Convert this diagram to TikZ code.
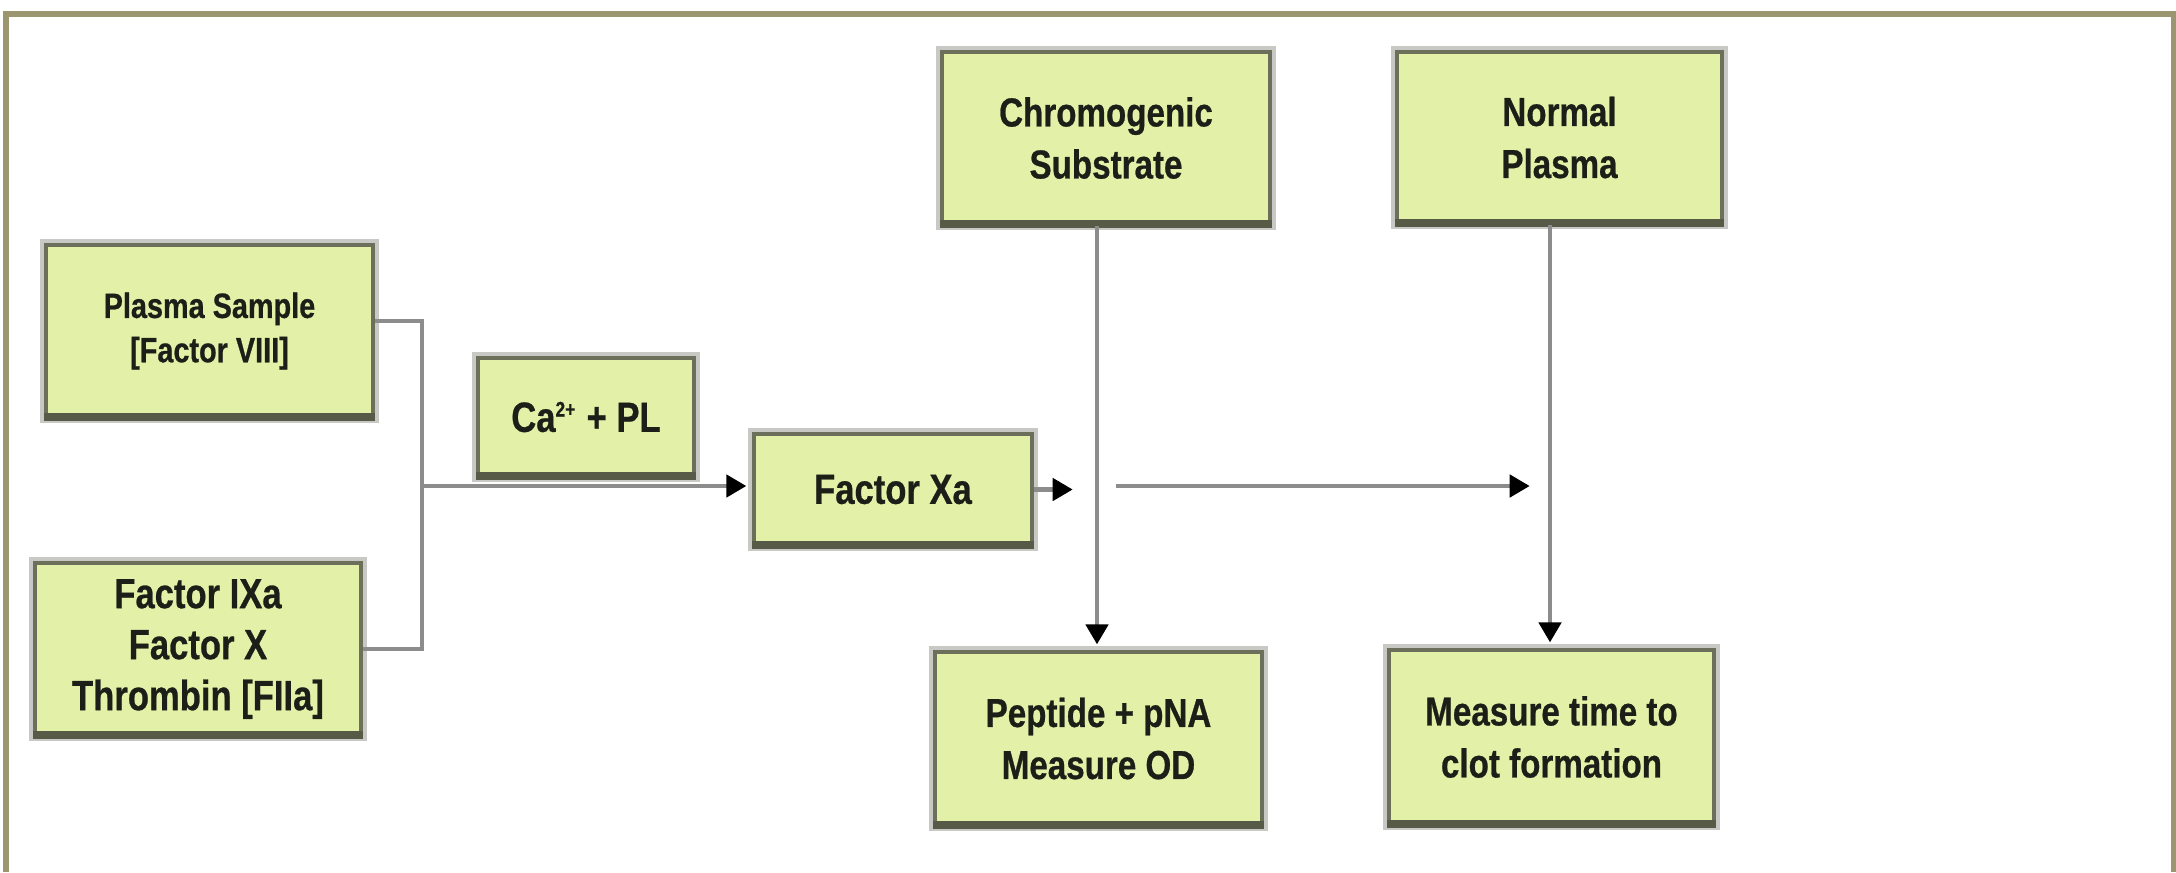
\documentclass[tikz,border=0pt]{standalone}
\usepackage{fontspec}
\setmainfont{Liberation Sans}[FakeStretch=0.82,FakeBold=0.6]
\usetikzlibrary{arrows.meta}
\definecolor{frameol}{RGB}{155,150,112}
\definecolor{boxfill}{RGB}{227,241,168}
\definecolor{boxline}{RGB}{108,111,90}
\definecolor{boxbot}{RGB}{88,90,72}
\definecolor{halo}{RGB}{200,200,196}
\definecolor{connc}{RGB}{140,140,140}
\definecolor{txt}{RGB}{28,30,24}
\tikzset{
  box/.style 2 args={draw=boxline, line width=1.3pt, fill=boxfill,
    preaction={draw=halo, line width=3.2pt},
    minimum width=#1, minimum height=#2, inner sep=0pt, align=center,
    text=txt, font=\bfseries\fontsize{11.5}{14.8}\selectfont},
  boxbottom/.style={draw=boxbot, line width=2.2pt},
  conn/.style={draw=connc, line width=1.3pt},
  arr/.style={conn, shorten >=1.5pt, -{Triangle[length=0.2cm,width=0.22cm,color=black]}}
}
\begin{document}
\begin{tikzpicture}[x=0.01cm,y=-0.01cm]
\useasboundingbox (0,0) rectangle (2176,872);
% frame
\draw[frameol, line width=0.06cm] (6,872) -- (6,14) -- (2174,14) -- (2174,872);
% nodes
\node[box={3.27cm}{1.72cm}, font=\bfseries\fontsize{10}{12.6}\selectfont] (ps) at (209.5,331) {Plasma Sample\\{[Factor VIII]}};
\node[box={3.26cm}{1.72cm}, font=\bfseries\fontsize{12}{14.5}\selectfont] (ix) at (198,649) {Factor IXa\\Factor X\\Thrombin [FIIa]};
\node[box={2.16cm}{1.18cm}, font=\bfseries\fontsize{12}{14.5}\selectfont] (ca) at (586,417) {Ca\textsuperscript{\fontsize{6}{6}\selectfont 2+} + PL};
\node[box={2.78cm}{1.11cm}, font=\bfseries\fontsize{12}{14.5}\selectfont] (xa) at (893,489.5) {Factor Xa};
\node[box={3.28cm}{1.72cm}] (cs) at (1106,138) {Chromogenic\\Substrate};
\node[box={3.25cm}{1.71cm}] (np) at (1559.5,137.5) {Normal\\Plasma};
\node[box={3.27cm}{1.73cm}] (pe) at (1098.5,738.5) {Peptide + pNA\\Measure OD};
\node[box={3.25cm}{1.74cm}] (mt) at (1551.5,737) {Measure time to\\clot formation};
\foreach \n in {ps,ix,ca,xa,cs,np,pe,mt}
  \draw[boxbottom] ([yshift=0.6pt]\n.south west) -- ([yshift=0.6pt]\n.south east);
% coordinates
\coordinate (j1) at (422,321);
\coordinate (jm) at (422,486);
\coordinate (xe) at (1078,489.5);
\coordinate (vx) at (1097,0);
\coordinate (h1) at (1116,486);
\coordinate (h2) at (1535,486);
\coordinate (vx2) at (1550,0);
% connectors
\draw[conn] (ps.east |- j1) -- (j1) -- (j1 |- ix.east) -- (ix.east);
\draw[arr] (jm) -- (xa.west |- jm);
\draw[arr] (xa.east) -- (xe);
\draw[arr] (cs.south -| vx) -- (pe.north -| vx);
\draw[arr] (h1) -- (h2);
\draw[arr] (np.south -| vx2) -- (mt.north -| vx2);
\end{tikzpicture}
\end{document}
